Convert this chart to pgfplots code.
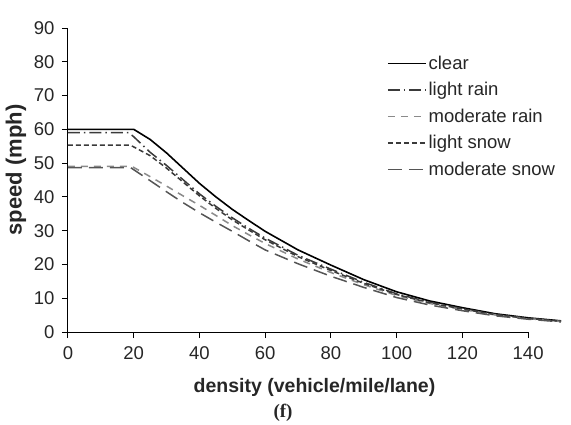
\documentclass[border=0pt]{standalone}
\usepackage{pgfplots}
\pgfplotsset{compat=1.18}
\usepackage{fontspec}
\setmainfont{Liberation Sans}
\newfontfamily\serifbold{Liberation Serif}
\definecolor{dg}{HTML}{3A3A3A}
\definecolor{mg}{HTML}{555555}
\definecolor{lg}{HTML}{8A8A8A}
\begin{document}
\begin{tikzpicture}
\begin{axis}[
  scale only axis, width=493pt, height=304pt,
  xmin=0, xmax=150, ymin=0, ymax=90,
  axis x line*=bottom, axis y line*=left,
  x axis line style={draw=none}, y axis line style={draw=none, -},
  xtick={0,20,...,140}, ytick={0,10,...,90},
  tick align=outside, major tick length=6pt,
  tick style={black, line width=1pt},
  every tick label/.append style={font=\fontsize{18.5}{20}\selectfont, text=black!85},
  /pgf/number format/assume math mode=true,
  xticklabel style={yshift=-5pt},
  yticklabel style={xshift=-4pt},
  xlabel={\textbf{density (vehicle/mile/lane)}},
  ylabel={\textbf{speed (mph)}},
  label style={font=\fontsize{19.5}{21}\selectfont, text=black!85},
  xlabel style={at={(axis description cs:0.5,-0.184)}, anchor=center},
  ylabel style={at={(axis description cs:-0.1055,0.533)}, anchor=center, font=\fontsize{22}{24}\selectfont},
  clip=false,
  legend style={draw=none, fill=none, at={(axis cs:97,82.4)}, anchor=north west,
    font=\fontsize{18.5}{20}\selectfont, text=black!85, row sep=7.6pt, inner sep=0pt},
  legend cell align=left,
  legend image code/.code={\draw[#1] (0pt,0pt) -- (38pt,0pt);},
  every axis plot/.append style={line width=1.5pt},
]
\draw[black, line width=1pt] (axis cs:0,0) -- (axis cs:140,0);
\draw[black, line width=1pt] (axis cs:0,0) -- (axis cs:0,90);
\addplot[black, line width=1.6pt] coordinates {
(0,60) (20,60) (25,57) (30,53) (35,48.5) (40,44) (45,40) (50,36.3) (55,33) (60,29.8)
(70,24.3) (80,19.8) (90,15.5) (100,11.9) (110,9.2) (120,7.2) (130,5.4) (140,4.2) (150,3.3)};
\addlegendentry{clear}
\addplot[dg, dash pattern=on 12pt off 4pt on 1.5pt off 4pt] coordinates {
(0,59) (18.5,59) (20,57.8) (25,53.2) (30,49.3) (35,45.1) (40,40.9) (45,37.2) (50,33.8) (55,30.7) (60,27.8)
(70,22.7) (80,18.6) (90,14.7) (100,11.3) (110,8.8) (120,6.9) (130,5.2) (140,4.07) (150,3.2)};
\addlegendentry{light rain}
\addplot[lg, dash pattern=on 7pt off 6pt] coordinates {
(0,49) (19.5,49) (25,46) (30,43.2) (35,40.3) (40,37.5) (45,34.5) (50,31.5) (55,28.8) (60,26.2)
(70,21.6) (80,17.6) (90,14) (100,10.8) (110,8.45) (120,6.65) (130,5.05) (140,3.95) (150,3.1)};
\addlegendentry{moderate rain}
\addplot[dg, dash pattern=on 5pt off 3pt] coordinates {
(0,55.3) (19,55.3) (20,54.8) (25,52.2) (30,48.5) (35,44.4) (40,40.3) (45,36.6) (50,33.2) (55,30.2) (60,27.3)
(70,22.3) (80,18.2) (90,14.4) (100,11.1) (110,8.65) (120,6.8) (130,5.15) (140,4.02) (150,3.17)};
\addlegendentry{light snow}
\addplot[mg, dash pattern=on 14pt off 7pt] coordinates {
(0,48.7) (19,48.7) (25,44.8) (30,41.5) (35,38.3) (40,35.3) (45,32.5) (50,29.8) (55,27.0) (60,24.3)
(70,20.2) (80,16.5) (90,13.2) (100,10.2) (110,8.0) (120,6.3) (130,4.8) (140,3.78) (150,3.0)};
\addlegendentry{moderate snow}
\end{axis}
\node[font=\serifbold\bfseries\fontsize{19}{20}\selectfont, text=black!85] at (215pt,-81pt) {(f)};
\pgfresetboundingbox
\useasboundingbox (-68pt,-92pt) rectangle (503pt,332pt);
\end{tikzpicture}
\end{document}
